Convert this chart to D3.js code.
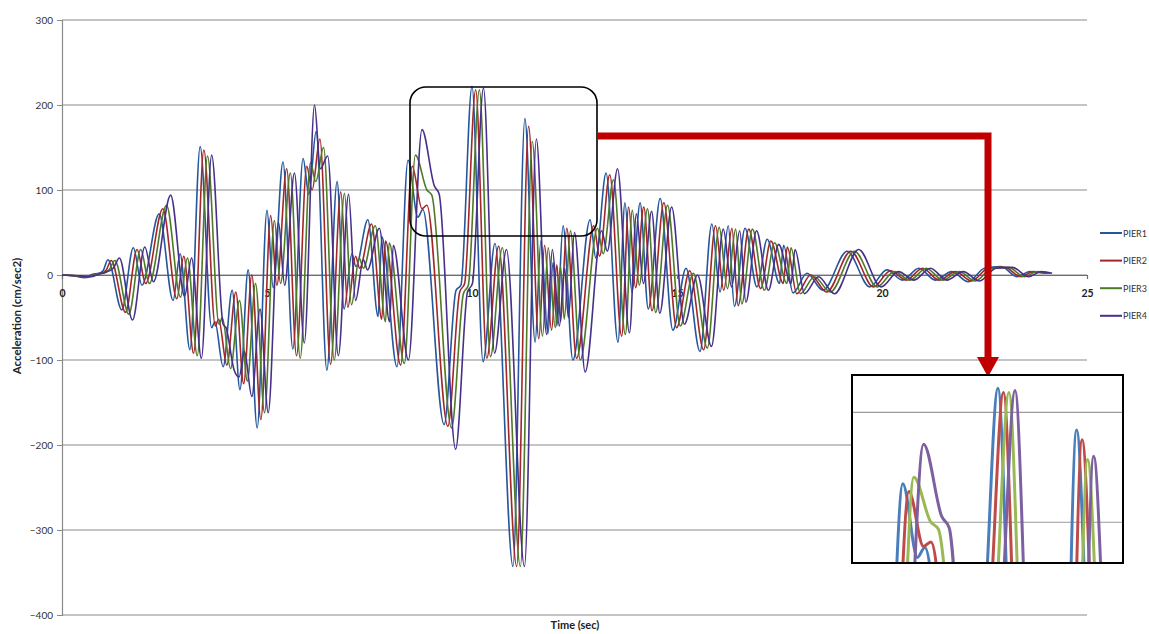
<!DOCTYPE html>
<html>
<head>
<meta charset="utf-8">
<script src="https://cdn.jsdelivr.net/npm/d3@7"></script>
<style>
  body { margin: 0; background: #fff; }
  svg { display: block; }
  text { font-family: Lato, "Open Sans", "DejaVu Sans", sans-serif; }
</style>
</head>
<body>
<svg id="chart" width="1149" height="634"></svg>
<script>
// Ground-motion acceleration records at four piers, [time (s), acceleration (cm/sec2)]
const seriesNames = ["PIER1", "PIER2", "PIER3", "PIER4"];

const pier1 = [[0,0],[0.3,-1],[0.55,-3],[0.75,1],[0.9,2],[1.0,5],[1.12,18],[1.46,-41],[1.74,32],[1.95,-12],[2.37,72],[2.71,-30],[2.88,25],[3.12,-88],[3.37,151],[3.65,-62],[3.73,-55],[3.93,-108],[4.15,-18],[4.34,-135],[4.54,6],[4.76,-180],[5.0,76],[5.15,-15],[5.39,133],[5.63,-87],[5.88,137],[6.02,95],[6.2,169],[6.46,-112],[6.71,110],[6.88,-40],[7.07,25],[7.17,10],[7.46,65],[7.71,-49],[7.8,45],[8.17,-108],[8.44,135],[8.68,68],[8.8,77],[9.32,-176],[9.61,-18],[9.73,-12],[10.0,222],[10.27,-102],[10.56,37],[11.0,-343],[11.29,184],[11.54,-79],[11.68,40],[11.85,-69],[11.98,15],[12.07,-60],[12.22,58],[12.46,-100],[12.88,65],[13.02,20],[13.27,120],[13.56,-79],[13.73,85],[13.9,-20],[14.1,85],[14.3,-40],[14.59,90],[14.9,-65],[15.22,8],[15.56,-90],[15.85,60],[16.05,-20],[16.25,58],[16.4,-37],[16.66,55],[16.95,-14],[17.2,42],[17.5,-10],[17.6,35],[17.83,-21],[18.17,2],[18.56,-18],[19.15,28],[19.7,-14],[20.12,6],[20.5,-6],[20.9,8],[21.3,-6],[21.7,4],[22.1,-8],[22.5,8],[22.9,10],[23.3,-2],[23.6,4],[24.0,2]];

const pier2 = [[0,0],[0.35,-1],[0.6,-3],[0.8,1],[0.95,2],[1.08,6],[1.2,17],[1.55,-44],[1.83,30],[2.04,-10],[2.46,78],[2.8,-28],[2.97,22],[3.21,-92],[3.46,147],[3.74,-60],[3.82,-52],[4.02,-106],[4.24,-20],[4.43,-128],[4.63,0],[4.85,-170],[5.09,70],[5.24,-12],[5.48,125],[5.72,-95],[5.97,128],[6.1,100],[6.29,160],[6.55,-105],[6.8,98],[6.97,-38],[7.16,22],[7.26,8],[7.55,60],[7.8,-52],[7.89,40],[8.26,-106],[8.54,128],[8.78,78],[8.9,82],[9.41,-178],[9.7,-20],[9.82,-10],[10.09,218],[10.36,-98],[10.65,34],[11.09,-343],[11.38,175],[11.63,-75],[11.77,35],[11.94,-65],[12.07,12],[12.16,-55],[12.31,55],[12.55,-98],[12.97,58],[13.11,22],[13.36,118],[13.65,-72],[13.82,80],[13.99,-15],[14.19,80],[14.39,-42],[14.68,85],[14.99,-62],[15.31,5],[15.65,-88],[15.94,58],[16.14,-18],[16.34,55],[16.49,-36],[16.75,54],[17.04,-16],[17.29,40],[17.59,-10],[17.69,33],[17.92,-22],[18.26,0],[18.65,-20],[19.24,28],[19.79,-14],[20.21,5],[20.59,-6],[20.99,8],[21.39,-6],[21.79,4],[22.19,-7],[22.59,8],[22.99,9],[23.39,-2],[23.69,4],[24.05,2]];

const pier3 = [[0,0],[0.4,-1],[0.65,-2],[0.85,1],[1.0,2],[1.15,6],[1.29,17],[1.63,-46],[1.92,30],[2.13,-10],[2.55,82],[2.89,-26],[3.06,20],[3.3,-95],[3.55,140],[3.83,-58],[3.91,-50],[4.11,-110],[4.33,-30],[4.52,-125],[4.72,-10],[4.94,-162],[5.18,64],[5.33,-10],[5.57,120],[5.81,-98],[6.06,132],[6.19,110],[6.38,150],[6.64,-100],[6.89,96],[7.06,-35],[7.25,20],[7.35,8],[7.64,58],[7.89,-55],[7.98,38],[8.35,-104],[8.62,141],[8.9,100],[9.02,94],[9.5,-180],[9.79,-22],[9.91,-12],[10.18,218],[10.45,-96],[10.74,32],[11.18,-343],[11.47,157],[11.72,-72],[11.86,32],[12.03,-62],[12.16,10],[12.25,-52],[12.4,52],[12.64,-100],[13.06,55],[13.2,25],[13.45,112],[13.74,-70],[13.91,76],[14.08,-12],[14.28,78],[14.48,-44],[14.77,82],[15.08,-60],[15.4,2],[15.74,-86],[16.03,56],[16.23,-16],[16.43,54],[16.58,-34],[16.84,54],[17.13,-18],[17.38,38],[17.68,-10],[17.78,32],[18.01,-22],[18.35,-2],[18.74,-20],[19.33,28],[19.88,-14],[20.3,4],[20.68,-6],[21.08,8],[21.48,-6],[21.88,4],[22.28,-7],[22.68,8],[23.08,9],[23.48,-2],[23.78,4],[24.1,2]];

const pier4 = [[0,0],[0.45,-1],[0.7,-2],[0.9,1],[1.05,3],[1.25,8],[1.4,20],[1.72,-53],[2.02,33],[2.23,-8],[2.65,94],[2.99,-25],[3.16,20],[3.4,-98],[3.65,141],[3.93,-58],[4.0,-62],[4.2,-112],[4.32,-120],[4.45,-90],[4.63,-143],[4.83,-40],[5.03,-162],[5.28,62],[5.43,-12],[5.67,120],[5.91,-80],[6.16,200],[6.3,125],[6.48,140],[6.74,-95],[6.99,95],[7.16,-30],[7.35,18],[7.45,6],[7.74,55],[7.99,-55],[8.08,35],[8.45,-100],[8.78,171],[9.08,105],[9.2,95],[9.6,-205],[9.89,-20],[10.01,-10],[10.28,220],[10.55,-92],[10.84,30],[11.28,-343],[11.57,160],[11.82,-70],[11.96,30],[12.13,-60],[12.26,8],[12.35,-50],[12.5,50],[12.76,-114],[13.16,52],[13.3,28],[13.55,125],[13.84,-68],[14.01,72],[14.18,-10],[14.38,75],[14.58,-45],[14.87,80],[15.18,-58],[15.5,0],[15.84,-84],[16.13,54],[16.33,-14],[16.53,52],[16.68,-32],[16.94,52],[17.23,-18],[17.48,36],[17.78,-10],[17.88,30],[18.11,-22],[18.45,-2],[18.84,-22],[19.43,30],[19.98,-14],[20.4,4],[20.78,-6],[21.18,8],[21.58,-6],[21.98,4],[22.38,-7],[22.78,8],[23.18,9],[23.58,-2],[23.88,4],[24.15,2]];

const seriesData = [pier1, pier2, pier3, pier4];
const lineColors = ["#24579c", "#a3262b", "#4e7a26", "#46308a"];
const insetColors = ["#4a7ebb", "#be4b48", "#98b954", "#7d60a0"];

const yTicks = [300, 200, 100, 0, -100, -200, -300, -400];
const xTicks = [0, 5, 10, 15, 20, 25];
const yTitle = "Acceleration (cm/sec2)";
const xTitle = "Time (sec)";

const svg = d3.select("#chart");

const x = d3.scaleLinear().domain([0, 25]).range([62, 1087]);
const y = d3.scaleLinear().domain([-400, 300]).range([615, 20]);

// horizontal gridlines
svg.append("g").selectAll("line").data(yTicks).join("line")
  .attr("x1", x(0)).attr("x2", x(25))
  .attr("y1", d => y(d)).attr("y2", d => y(d))
  .attr("stroke", "#8a8a8a").attr("stroke-width", 1.2);

// vertical axis
const yAxis = svg.append("g").attr("transform", `translate(${x(0)},0)`)
  .call(d3.axisLeft(y).tickValues(yTicks).tickSize(5).tickPadding(4).tickFormat(d3.format("d")));
yAxis.select(".domain").attr("stroke", "#8a8a8a").attr("stroke-width", 1.2);
yAxis.selectAll(".tick line").attr("stroke", "#8a8a8a");
yAxis.selectAll(".tick text").attr("font-size", 10).attr("fill", "#333")
  .style("font-family", "Lato, 'Open Sans', sans-serif");

// time axis along zero acceleration
const xAxis = svg.append("g").attr("transform", `translate(0,${y(0)})`)
  .call(d3.axisBottom(x).tickValues(xTicks).tickSize(4).tickPadding(11).tickFormat(d3.format("d")));
xAxis.select(".domain").attr("stroke", "#6e6e6e").attr("stroke-width", 1.2);
xAxis.selectAll(".tick line").attr("stroke", "#6e6e6e");
xAxis.selectAll(".tick text").attr("font-size", 10.5).attr("font-weight", "bold").attr("fill", "#222")
  .style("font-family", "Lato, 'Open Sans', sans-serif");

// axis titles
svg.append("text").attr("transform", "translate(21,316) rotate(-90)")
  .attr("text-anchor", "middle").attr("font-size", 11.5).attr("font-weight", "bold").attr("fill", "#222")
  .text(yTitle);
svg.append("text").attr("x", 575).attr("y", 629)
  .attr("text-anchor", "middle").attr("font-size", 11).attr("font-weight", "bold").attr("fill", "#222")
  .text(xTitle);

// acceleration traces
const line = d3.line().x(d => x(d[0])).y(d => y(d[1])).curve(d3.curveMonotoneX);
svg.append("g").selectAll("path").data(seriesData).join("path")
  .attr("d", line).attr("fill", "none")
  .attr("stroke", (d, i) => lineColors[i]).attr("stroke-width", 1.6)
  .attr("stroke-linejoin", "round");

// legend
const legend = svg.append("g").selectAll("g").data(seriesNames).join("g")
  .attr("transform", (d, i) => `translate(1100,${233 + i * 27.6})`);
legend.append("line").attr("x1", 0).attr("x2", 22).attr("y1", 0).attr("y2", 0)
  .attr("stroke", (d, i) => lineColors[i]).attr("stroke-width", 2);
legend.append("text").attr("x", 23).attr("y", 3.5).attr("font-size", 9).attr("fill", "#333").text(d => d);

// highlighted window around the strongest peaks
svg.append("rect").attr("x", 410).attr("y", 87).attr("width", 187).attr("height", 149)
  .attr("rx", 16).attr("ry", 16).attr("fill", "none").attr("stroke", "#000").attr("stroke-width", 1.6);

// connector to the enlarged view
svg.append("path").attr("d", "M597,136 H988 V360").attr("fill", "none")
  .attr("stroke", "#c00000").attr("stroke-width", 7);
svg.append("path").attr("d", "M977,357 L999,357 L988,377 Z").attr("fill", "#c00000");

// enlarged view
const ix0 = 852, ix1 = 1123, iy0 = 375, iy1 = 563;
const xi = d3.scaleLinear().domain([7.607, 12.05]).range([ix0, ix1]);
const yi = d3.scaleLinear().domain([62.9, 234]).range([iy1, iy0]);

svg.append("defs").append("clipPath").attr("id", "insetClip")
  .append("rect").attr("x", ix0).attr("y", iy0).attr("width", ix1 - ix0).attr("height", iy1 - iy0);

svg.append("rect").attr("x", ix0).attr("y", iy0).attr("width", ix1 - ix0).attr("height", iy1 - iy0)
  .attr("fill", "#fff");

const inset = svg.append("g").attr("clip-path", "url(#insetClip)");
inset.selectAll("line").data([200, 100]).join("line")
  .attr("x1", ix0).attr("x2", ix1).attr("y1", d => yi(d)).attr("y2", d => yi(d))
  .attr("stroke", "#9a9a9a").attr("stroke-width", 1.2);

const insetLine = d3.line().x(d => xi(d[0])).y(d => yi(d[1])).curve(d3.curveMonotoneX);
inset.selectAll("path").data(seriesData).join("path")
  .attr("d", insetLine).attr("fill", "none")
  .attr("stroke", (d, i) => insetColors[i]).attr("stroke-width", 3)
  .attr("stroke-linejoin", "round");

svg.append("rect").attr("x", ix0).attr("y", iy0).attr("width", ix1 - ix0).attr("height", iy1 - iy0)
  .attr("fill", "none").attr("stroke", "#000").attr("stroke-width", 2);
</script>
</body>
</html>
